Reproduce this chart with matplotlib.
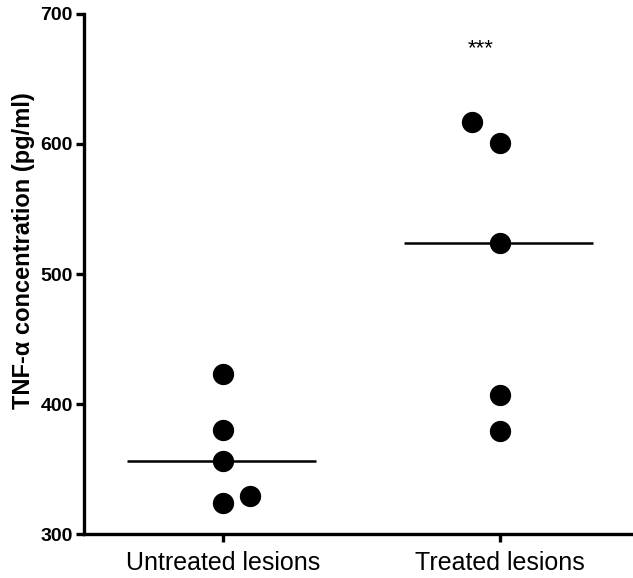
import numpy as np
import matplotlib
matplotlib.use("Agg")
import matplotlib.pyplot as plt

plt.rcParams['font.family'] = ['Liberation Sans', 'DejaVu Sans']

# datos
grupos = ['Untreated lesions', 'Treated lesions']
no_tratadas = [423, 380, 356, 324, 329]
tratadas = [617, 601, 524, 407, 379]
# desplazamiento horizontal de cada punto (dispersion)
desp_no_tratadas = [0, 0, 0, 0, 0.1]
desp_tratadas = [-0.1, 0, 0, 0, 0]
marca_signif = '***'

fig = plt.figure(figsize=(6.33, 5.78), dpi=100)
ax = fig.add_axes([0.1327, 0.0761, 0.8673, 0.8997])

series = [no_tratadas, tratadas]
desps = [desp_no_tratadas, desp_tratadas]
for i in range(len(grupos)):
    x = np.array(desps[i]) + i
    ax.scatter(x, series[i], s=205, color='black', zorder=3)
    med = np.median(series[i])
    ax.hlines(med, i - 0.345, i + 0.335, color='black', linewidth=1.8, zorder=2)

ax.text(1 - 0.07, 673, marca_signif, ha='center', va='center', fontsize=16)

ax.set_xlim(-0.5, 1.48)
ax.set_ylim(300, 700)
ax.set_yticks([300, 400, 500, 600, 700])
ax.set_xticks(range(len(grupos)))
ax.set_xticklabels(grupos, fontsize=18)
for t in ax.get_yticklabels():
    t.set_fontweight('bold')
    t.set_fontsize(14)
ax.set_ylabel('TNF-α concentration (pg/ml)', fontsize=17, fontweight='bold',
              family=['Liberation Sans Narrow', 'Liberation Sans'])
ax.yaxis.set_label_coords(-0.09, 0.545)

for lado in ['top', 'right']:
    ax.spines[lado].set_visible(False)
for lado in ['left', 'bottom']:
    ax.spines[lado].set_linewidth(2.4)
ax.tick_params(axis='both', width=2.4, length=6, color='black')
ax.tick_params(axis='x', pad=6)
ax.tick_params(axis='y', pad=2)

fig.savefig('out.png', dpi=100)
